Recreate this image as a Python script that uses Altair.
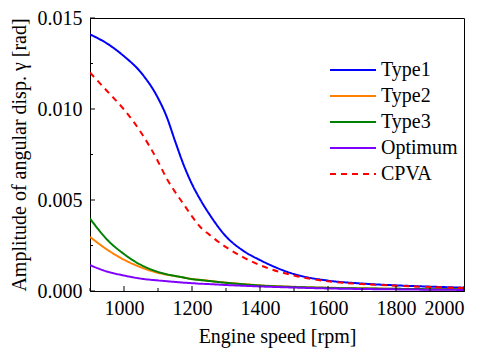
import altair as alt
import pandas as pd

rpm = [900, 950, 1000, 1050, 1100, 1125, 1150, 1175, 1200, 1225, 1250, 1300, 1350, 1400, 1500, 1600, 1700, 1800, 1900, 2000]
type1 = [0.01410, 0.01360, 0.01290, 0.01200, 0.01060, 0.00960, 0.00825, 0.00695, 0.00587, 0.00500, 0.00425, 0.00300, 0.00222, 0.00170, 0.00093, 0.00057, 0.00041, 0.00031, 0.00024, 0.00018]
type2 = [0.00297, 0.00228, 0.00172, 0.00130, 0.00100, 0.00090, 0.00082, 0.00074, 0.00066, 0.00061, 0.00056, 0.00046, 0.00038, 0.00031, 0.00023, 0.00018, 0.00015, 0.00012, 0.00010, 0.00009]
type3 = [0.00398, 0.00283, 0.00203, 0.00143, 0.00105, 0.00092, 0.00083, 0.00074, 0.00065, 0.00060, 0.00055, 0.00045, 0.00037, 0.00030, 0.00022, 0.00017, 0.00014, 0.00012, 0.00010, 0.00009]
optimum = [0.00142, 0.00107, 0.00085, 0.00068, 0.00058, 0.00054, 0.00050, 0.00046, 0.00043, 0.00040, 0.00038, 0.00033, 0.00029, 0.00025, 0.00019, 0.00014, 0.00011, 0.00009, 0.00007, 0.00006]
cpva = [0.01200, 0.01099, 0.00997, 0.00871, 0.00712, 0.00620, 0.00545, 0.00478, 0.00410, 0.00350, 0.00311, 0.00241, 0.00186, 0.00142, 0.00085, 0.00053, 0.00038, 0.00029, 0.00022, 0.00017]

series_names = ["Type1", "Type2", "Type3", "Optimum", "CPVA"]
series_colors = ["#0000ff", "#ff8000", "#008000", "#8000ff", "#ff0000"]
series_dash = [[1, 0], [1, 0], [1, 0], [1, 0], [6, 5]]

x_major = [1000, 1200, 1400, 1600, 1800, 2000]
x_minor = [900, 1100, 1300, 1500, 1700, 1900]
y_major = [0.0, 0.005, 0.010, 0.015]
y_minor = [0.0025, 0.0075, 0.0125]

rows = []
for name, vals in zip(series_names, [type1, type2, type3, optimum, cpva]):
    for r, v in zip(rpm, vals):
        rows.append({"rpm": r, "amp": v, "series": name})
df = pd.DataFrame(rows)

W, H = 374, 273
FONT = "Liberation Serif, Times New Roman, serif"
FS = 20

xscale = alt.Scale(domain=[900, 2000], nice=False, zero=False)
yscale = alt.Scale(domain=[0, 0.015], nice=False)

leg = dict(title=None, orient="none", legendX=253, legendY=42,
           symbolType="M-4,0H4", symbolSize=132.25, symbolStrokeWidth=2,
           labelFont=FONT, labelFontSize=FS, labelColor="black",
           labelOffset=18, rowPadding=6, padding=0)

lines = alt.Chart(df).mark_line(strokeWidth=2, interpolate="monotone", clip=True).encode(
    x=alt.X("rpm:Q", scale=xscale,
            axis=alt.Axis(title="Engine speed [rpm]", values=x_major, format="d", tickSize=0,
                          labelPadding=7, titlePadding=8, grid=False)),
    y=alt.Y("amp:Q", scale=yscale,
            axis=alt.Axis(title="Amplitude of angular disp. γ [rad]", values=y_major, format=".3f",
                          tickSize=0, labelPadding=8, titlePadding=8, grid=False)),
    color=alt.Color("series:N", scale=alt.Scale(domain=series_names, range=series_colors),
                    legend=alt.Legend(**leg)),
    strokeDash=alt.StrokeDash("series:N", scale=alt.Scale(domain=series_names, range=series_dash),
                              legend=alt.Legend(**leg)),
    order=alt.Order("order:Q"),
).transform_calculate(
    order="indexof(['Type1','Type2','Type3','Optimum','CPVA'], datum.series)"
)

xmaj = alt.Chart(pd.DataFrame({"v": x_major})).mark_rule(color="black", strokeWidth=1).encode(
    x=alt.X("v:Q", scale=xscale), y=alt.value(H), y2=alt.value(H - 5))
xmin = alt.Chart(pd.DataFrame({"v": x_minor})).mark_rule(color="black", strokeWidth=1).encode(
    x=alt.X("v:Q", scale=xscale), y=alt.value(H), y2=alt.value(H - 3))
ymaj = alt.Chart(pd.DataFrame({"v": y_major})).mark_rule(color="black", strokeWidth=1).encode(
    y=alt.Y("v:Q", scale=yscale), x=alt.value(0), x2=alt.value(5))
ymin = alt.Chart(pd.DataFrame({"v": y_minor})).mark_rule(color="black", strokeWidth=1).encode(
    y=alt.Y("v:Q", scale=yscale), x=alt.value(0), x2=alt.value(3))

chart = alt.layer(lines, xmaj, xmin, ymaj, ymin).properties(
    width=W, height=H,
    autosize=alt.AutoSizeParams(type="none"),
    padding={"left": 82, "top": 10, "right": 13, "bottom": 58},
).configure_view(stroke="black", strokeWidth=1).configure_axis(
    labelFont=FONT, labelFontSize=FS, labelColor="black",
    titleFont=FONT, titleFontSize=FS, titleColor="black", titleFontWeight="normal",
    domainColor="black", domainWidth=1,
)

chart.save("out.html", embed_options={"renderer": "svg", "actions": False})
